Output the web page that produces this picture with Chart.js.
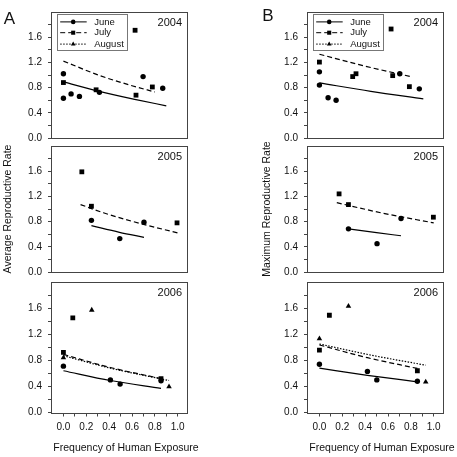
<!DOCTYPE html>
<html><head><meta charset="utf-8">
<script src="https://cdn.jsdelivr.net/npm/chart.js@4/dist/chart.umd.min.js"></script>
<style>
html,body{margin:0;padding:0;background:#fff;width:457px;height:457px;overflow:hidden}
#wrap{position:relative;width:457px;height:457px;background:#fff}
canvas{position:absolute}
</style></head><body><div id="wrap"></div>
<script>
// ---------- categories & tick labels ----------
const months = ['June', 'July', 'August'];
const years = ['2004', '2005', '2006'];
const panelLetters = ['A', 'B'];
const yTitles = ['Average Reproductive Rate', 'Maximum Reproductive Rate'];
const xTitle = 'Frequency of Human Exposure';
const xTickValues = [0, 0.1, 0.2, 0.3, 0.4, 0.5, 0.6, 0.7, 0.8, 0.9, 1.0];
const xTickLabels = ['0.0', '', '0.2', '', '0.4', '', '0.6', '', '0.8', '', '1.0'];
const yTickValues = [0, 0.2, 0.4, 0.6, 0.8, 1.0, 1.2, 1.4, 1.6, 1.8];
const yTickLabels = ['0.0', '', '0.4', '', '0.8', '', '1.2', '', '1.6', ''];

// ---------- A: Average reproductive rate ----------
const avg04JuneX = [0, 0, 0.067, 0.14, 0.315, 0.697, 0.869];
const avg04JuneY = [1.02, 0.63, 0.70, 0.66, 0.725, 0.975, 0.79];
const avg04JulyX = [0, 0.286, 0.627, 0.635, 0.778];
const avg04JulyY = [0.88, 0.765, 1.71, 0.68, 0.81];
const avg04JuneFitX = [0, 0.315, 0.635, 0.9];
const avg04JuneFitY = [0.89, 0.74, 0.61, 0.51];
const avg04JulyFitX = [0, 0.32, 0.6, 0.8];
const avg04JulyFitY = [1.22, 0.99, 0.83, 0.73];

const avg05JuneX = [0.245, 0.493, 0.705];
const avg05JuneY = [0.82, 0.53, 0.79];
const avg05JulyX = [0.161, 0.245, 0.994];
const avg05JulyY = [1.59, 1.044, 0.78];
const avg05JuneFitX = [0.245, 0.49, 0.705];
const avg05JuneFitY = [0.735, 0.63, 0.55];
const avg05JulyFitX = [0.15, 0.35, 0.61, 1.0];
const avg05JulyFitY = [1.07, 0.94, 0.80, 0.62];

const avg06JuneX = [0, 0.411, 0.496, 0.854];
const avg06JuneY = [0.71, 0.50, 0.435, 0.485];
const avg06JulyX = [0, 0.082, 0.854];
const avg06JulyY = [0.92, 1.45, 0.52];
const avg06AugX = [0, 0.248, 0.924];
const avg06AugY = [0.84, 1.57, 0.395];
const avg06JuneFitX = [0, 0.41, 0.854];
const avg06JuneFitY = [0.64, 0.49, 0.37];
const avg06JulyFitX = [0, 0.41, 0.854];
const avg06JulyFitY = [0.89, 0.69, 0.52];
const avg06AugFitX = [0, 0.41, 0.924];
const avg06AugFitY = [0.87, 0.68, 0.49];

// ---------- B: Maximum reproductive rate ----------
const max04JuneX = [0, 0, 0.076, 0.146, 0.703, 0.874];
const max04JuneY = [1.05, 0.84, 0.64, 0.60, 1.02, 0.78];
const max04JulyX = [0, 0.291, 0.32, 0.627, 0.641, 0.787];
const max04JulyY = [1.205, 0.975, 1.02, 1.73, 0.99, 0.815];
const max04JuneFitX = [0, 0.45, 0.909];
const max04JuneFitY = [0.875, 0.74, 0.62];
const max04JulyFitX = [0, 0.4, 0.8];
const max04JulyFitY = [1.33, 1.14, 0.975];

const max05JuneX = [0.254, 0.504, 0.714];
const max05JuneY = [0.685, 0.45, 0.85];
const max05JulyX = [0.172, 0.254, 0.997];
const max05JulyY = [1.24, 1.07, 0.87];
const max05JuneFitX = [0.254, 0.5, 0.714];
const max05JuneFitY = [0.685, 0.625, 0.575];
const max05JulyFitX = [0.152, 0.55, 1.0];
const max05JulyFitY = [1.10, 0.935, 0.78];

const max06JuneX = [0, 0.42, 0.502, 0.857];
const max06JuneY = [0.74, 0.63, 0.50, 0.48];
const max06JulyX = [0, 0.087, 0.857];
const max06JulyY = [0.955, 1.49, 0.64];
const max06AugX = [0, 0.254, 0.93];
const max06AugY = [1.13, 1.63, 0.47];
const max06JuneFitX = [0, 0.42, 0.857];
const max06JuneFitY = [0.68, 0.57, 0.47];
const max06JulyFitX = [0, 0.42, 0.857];
const max06JulyFitY = [1.035, 0.84, 0.675];
const max06AugFitX = [0, 0.45, 0.93];
const max06AugFitY = [1.05, 0.88, 0.725];

// ---------- styles ----------
const FONT = 'Arial, "Liberation Sans", sans-serif';
const MARK = {
  June: {pointStyle: 'circle', radius: 2.7},
  July: {pointStyle: 'rect', radius: 3.4},
  August: {pointStyle: 'triangle', radius: 3.2}
};
const DASH = {June: [], July: [5, 3], August: [1.5, 1.5]};
const INK = '#111';
const AXIS = '#444';

function pts(xs, ys) { return xs.map((x, i) => ({x: x, y: ys[i]})); }

const panels = [
  [ // column A
    {pts: {June: pts(avg04JuneX, avg04JuneY), July: pts(avg04JulyX, avg04JulyY)},
     fit: {June: pts(avg04JuneFitX, avg04JuneFitY), July: pts(avg04JulyFitX, avg04JulyFitY)}},
    {pts: {June: pts(avg05JuneX, avg05JuneY), July: pts(avg05JulyX, avg05JulyY)},
     fit: {June: pts(avg05JuneFitX, avg05JuneFitY), July: pts(avg05JulyFitX, avg05JulyFitY)}},
    {pts: {June: pts(avg06JuneX, avg06JuneY), July: pts(avg06JulyX, avg06JulyY), August: pts(avg06AugX, avg06AugY)},
     fit: {June: pts(avg06JuneFitX, avg06JuneFitY), July: pts(avg06JulyFitX, avg06JulyFitY), August: pts(avg06AugFitX, avg06AugFitY)}}
  ],
  [ // column B
    {pts: {June: pts(max04JuneX, max04JuneY), July: pts(max04JulyX, max04JulyY)},
     fit: {June: pts(max04JuneFitX, max04JuneFitY), July: pts(max04JulyFitX, max04JulyFitY)}},
    {pts: {June: pts(max05JuneX, max05JuneY), July: pts(max05JulyX, max05JulyY)},
     fit: {June: pts(max05JuneFitX, max05JuneFitY), July: pts(max05JulyFitX, max05JulyFitY)}},
    {pts: {June: pts(max06JuneX, max06JuneY), July: pts(max06JulyX, max06JulyY), August: pts(max06AugX, max06AugY)},
     fit: {June: pts(max06JuneFitX, max06JuneFitY), July: pts(max06JulyFitX, max06JulyFitY), August: pts(max06AugFitX, max06AugFitY)}}
  ]
];

// geometry: canvas per panel
const COL_LEFT = [0, 256];
const CANVAS_W = 200;
const ROW_GEOM = [
  {top: 0, height: 150, padTop: 4.3, padBottom: 9.7},
  {top: 134, height: 150, padTop: 6.3, padBottom: 7.7},
  {top: 270, height: 187, padTop: 6.5, padBottom: 0, xHeight: 44.5}
];
const Y_TITLE_PAD = [1.7, 4.4];
const LETTER_POS = [{x: 9.5, y: 19}, {x: 12, y: 16.5}];

const decor = {
  id: 'decor',
  afterDraw(chart, args, o) {
    const ctx = chart.ctx, ca = chart.chartArea;
    ctx.save();
    // frame
    ctx.strokeStyle = AXIS; ctx.lineWidth = 1; ctx.setLineDash([]);
    const L = Math.round(ca.left) - 0.5, R = Math.round(ca.right) - 0.5;
    const T = Math.round(ca.top) + 0.5, B = Math.round(ca.bottom) + 0.5;
    ctx.strokeRect(L, T, R - L, B - T);
    // year label
    ctx.fillStyle = INK;
    ctx.font = '11px ' + FONT;
    ctx.textAlign = 'right'; ctx.textBaseline = 'middle';
    ctx.fillText(o.year, ca.right - 6, ca.top + 11);
    // panel letter
    if (o.letter) {
      ctx.font = '17px ' + FONT;
      ctx.textAlign = 'center';
      ctx.fillText(o.letter, o.letterPos.x, o.letterPos.y);
    }
    // legend
    if (o.legend) {
      const bx = ca.left + 4.7, by = ca.top + 2.2, bw = 70, bh = 36;
      ctx.strokeStyle = '#777';
      ctx.strokeRect(Math.round(bx) + 0.5, Math.round(by) + 0.5, bw, bh);
      const rows = [7.7, 18.5, 29.9];
      months.forEach((m, i) => {
        const yy = by + rows[i];
        ctx.strokeStyle = '#000'; ctx.lineWidth = 1;
        ctx.setLineDash(DASH[m]);
        ctx.beginPath(); ctx.moveTo(bx + 3.5, yy); ctx.lineTo(bx + 30, yy); ctx.stroke();
        ctx.setLineDash([]);
        ctx.fillStyle = '#000';
        Chart.helpers.drawPoint(ctx, {pointStyle: MARK[m].pointStyle, radius: MARK[m].radius * 0.85, rotation: 0, borderWidth: 0}, bx + 16.5, yy);
        ctx.fillStyle = INK;
        ctx.font = '9.5px ' + FONT;
        ctx.textAlign = 'left'; ctx.textBaseline = 'middle';
        ctx.fillText(m, bx + 37.5, yy);
      });
    }
    // x axis title
    if (o.xTitle) {
      ctx.fillStyle = INK;
      ctx.font = '10.5px ' + FONT;
      ctx.textAlign = 'center'; ctx.textBaseline = 'middle';
      ctx.fillText(o.xTitle, ca.left + 74, chart.height - 8.7);
    }
    ctx.restore();
  }
};

const wrap = document.getElementById('wrap');
panels.forEach((col, c) => {
  col.forEach((panel, r) => {
    const g = ROW_GEOM[r];
    const cv = document.createElement('canvas');
    cv.width = CANVAS_W; cv.height = g.height;
    cv.style.left = COL_LEFT[c] + 'px'; cv.style.top = g.top + 'px';
    cv.style.width = CANVAS_W + 'px'; cv.style.height = g.height + 'px';
    wrap.appendChild(cv);
    const isBottom = r === 2;
    const datasets = [];
    months.forEach(m => {
      if (panel.fit[m]) datasets.push({
        label: m + ' fit', data: panel.fit[m], showLine: true, pointRadius: 0,
        borderColor: '#000', borderWidth: 1.2, borderDash: DASH[m],
        cubicInterpolationMode: 'monotone', fill: false
      });
    });
    months.forEach(m => {
      if (panel.pts[m]) datasets.push({
        label: m, data: panel.pts[m], showLine: false,
        pointStyle: MARK[m].pointStyle, pointRadius: MARK[m].radius,
        backgroundColor: '#000', borderColor: '#000', pointBorderWidth: 0
      });
    });
    new Chart(cv, {
      type: 'scatter',
      data: {datasets: datasets},
      plugins: [decor],
      options: {
        responsive: false, animation: false, events: [],
        devicePixelRatio: 1,
        layout: {padding: {left: 0, right: CANVAS_W - 188, top: g.padTop, bottom: g.padBottom}},
        plugins: {
          legend: {display: false}, tooltip: {enabled: false},
          decor: {
            year: years[r],
            letter: r === 0 ? panelLetters[c] : null,
            letterPos: LETTER_POS[c],
            legend: r === 0,
            xTitle: isBottom ? xTitle : null
          }
        },
        scales: {
          x: {
            type: 'linear', min: -0.1, max: 1.09, display: isBottom,
            afterBuildTicks: s => { s.ticks = xTickValues.map(v => ({value: v})); },
            afterFit: s => { s.height = g.xHeight || 0; },
            ticks: {autoSkip: false, maxRotation: 0, minRotation: 0, padding: 5, color: INK,
                    font: {family: FONT, size: 10}, callback: (v, i) => xTickLabels[i]},
            grid: {drawOnChartArea: false, drawTicks: true, tickLength: 4, color: AXIS},
            border: {display: false}
          },
          y: {
            type: 'linear', min: 0, max: 2,
            afterBuildTicks: s => { s.ticks = yTickValues.map(v => ({value: v})); },
            afterFit: s => { s.width = 52; },
            ticks: {autoSkip: false, padding: 6, color: INK,
                    font: {family: FONT, size: 10}, callback: (v, i) => yTickLabels[i]},
            grid: {drawOnChartArea: false, drawTicks: true, tickLength: 4, color: AXIS},
            border: {display: false},
            title: {display: r === 1, text: yTitles[c], color: INK,
                    font: {family: FONT, size: 10.5}, padding: {top: Y_TITLE_PAD[c], bottom: 0}}
          }
        }
      }
    });
  });
});
</script></body></html>
